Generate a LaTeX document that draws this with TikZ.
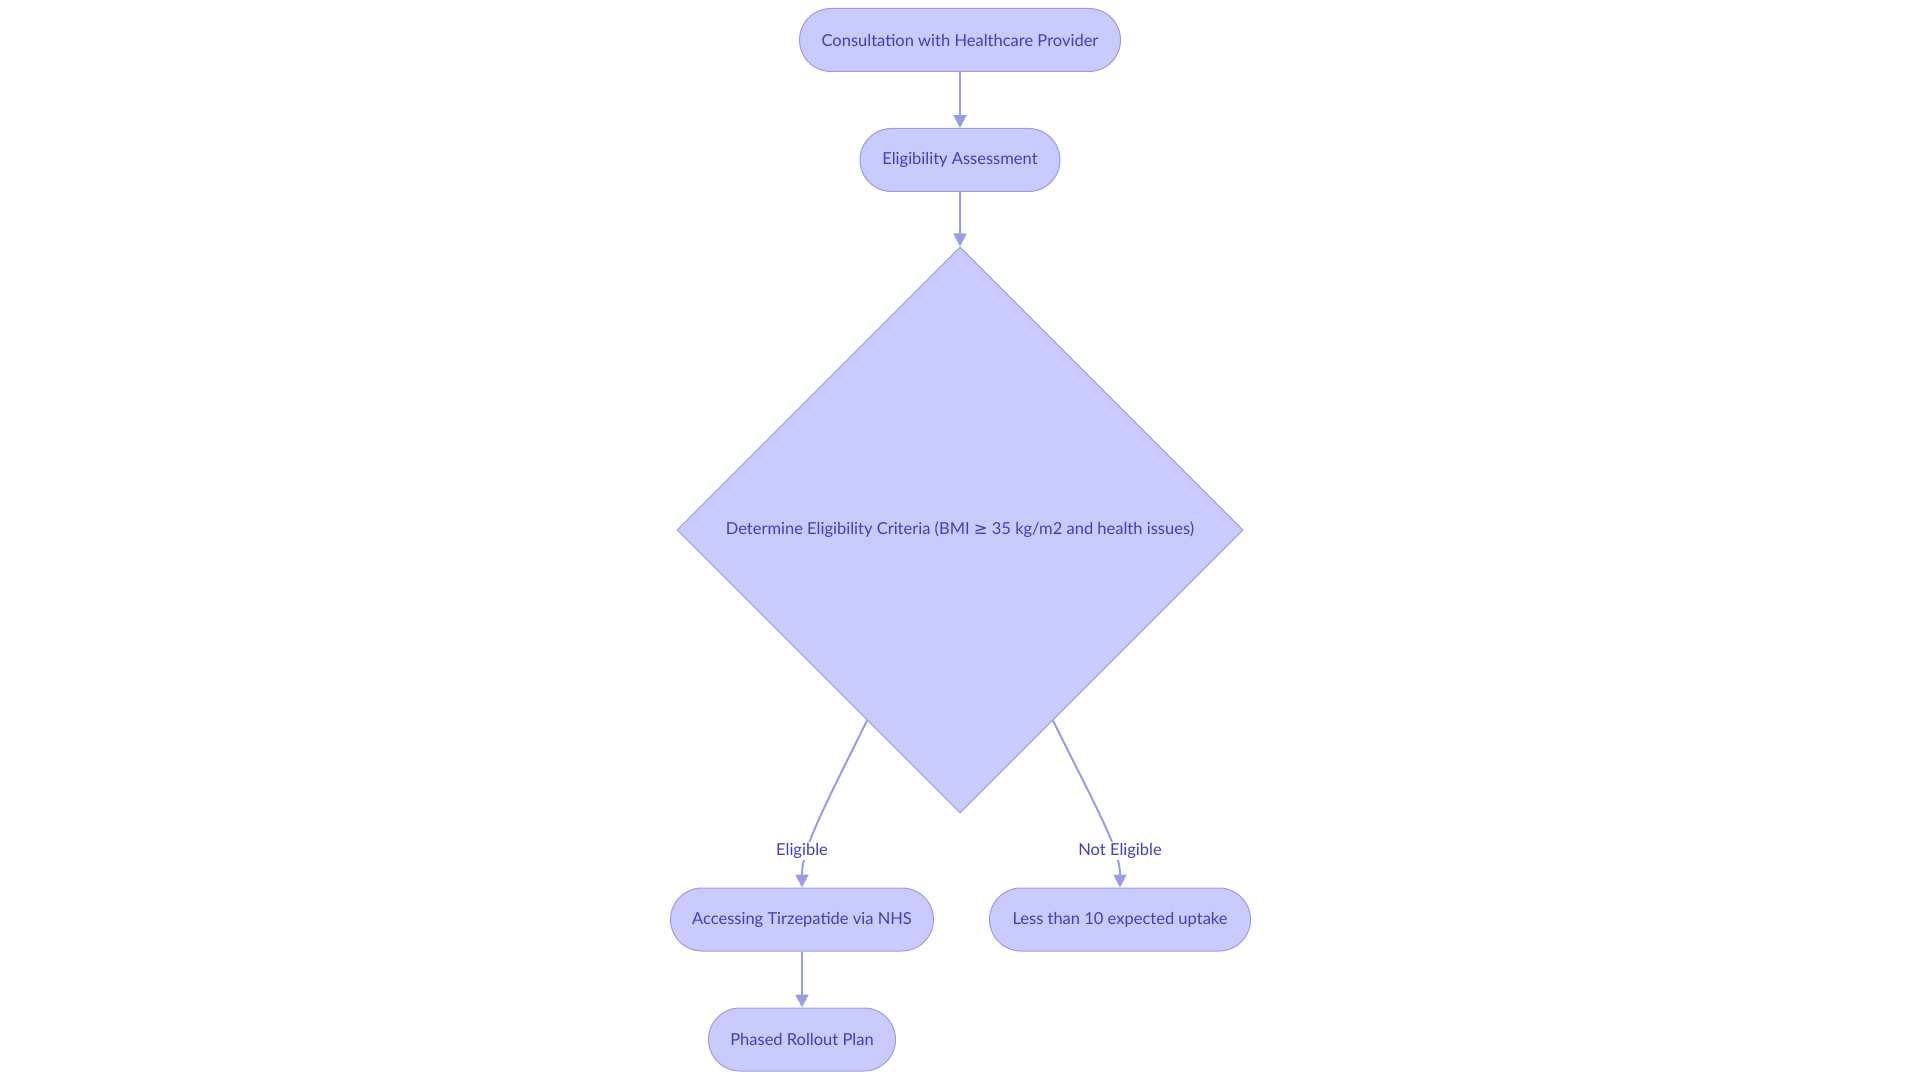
\documentclass[tikz,border=0pt]{standalone}
\usepackage{fontspec}
\setmainfont{Lato}
\newfontfamily\symfont{DejaVu Sans}
\usetikzlibrary{shapes.geometric,shapes.misc,arrows.meta,positioning}
\definecolor{boxfill}{HTML}{C8CBFB}
\definecolor{boxline}{HTML}{9A9CEA}
\definecolor{boxtext}{HTML}{3F3FBF}

\begin{document}
\begin{tikzpicture}[>={Triangle[length=13pt,width=13pt]},x=1pt,y=-1pt,
    font=\fontsize{16.5}{19}\selectfont,
    stepbox/.style={rounded rectangle,draw=boxline,fill=boxfill,text=boxtext,
        line width=1pt,minimum height=63pt,inner xsep=0pt},
    decision/.style={diamond,aspect=1,draw=boxline,fill=boxfill,text=boxtext,
        line width=1pt,minimum size=566pt,inner sep=0pt},
    link/.style={->,draw=boxline,line width=2pt},
    tag/.style={fill=white,text=boxtext,inner sep=1pt}]
    \useasboundingbox (0,0) rectangle (1920,1083);
    % steps
    \node[stepbox,minimum width=321pt] (consult) at (960,40) {Consultation with Healthcare Provider};
    \node[stepbox,minimum width=200pt] (assess) at (960,160) {Eligibility Assessment};
    \node[decision] (crit) at (960,530) {Determine Eligibility Criteria (BMI {\symfont ≥} 35 kg/m2 and health issues)};
    \node[stepbox,minimum width=263pt] (nhs) at (802,919.5) {Accessing Tirzepatide via NHS};
    \node[stepbox,minimum width=261pt] (uptake) at (1120,919.5) {Less than 10 expected uptake};
    \node[stepbox,minimum width=187pt] (rollout) at (802,1039.5) {Phased Rollout Plan};
    % links
    \draw[link] (consult) -- (assess);
    \draw[link] (assess) -- (crit.north);
    \draw[link] (crit.244) .. controls (820,815) and (802,850) .. (nhs.north);
    \draw[link] (crit.296) .. controls (1100,815) and (1120,850) .. (uptake.north);
    \draw[link] (nhs) -- (rollout);
    %\draw[help lines] (0,0) grid[step=100] (1920,1083);
    \node[tag] (yes) at (802,851) {Eligible};
    \node[tag] (no) at (1120,851) {Not Eligible};
\end{tikzpicture}
\end{document}
